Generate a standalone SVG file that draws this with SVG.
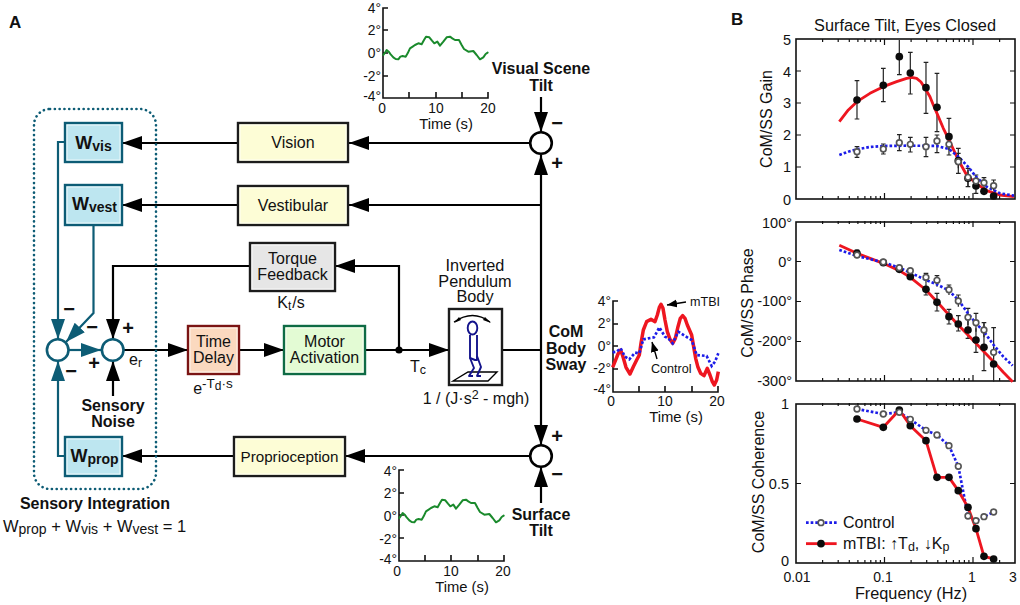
<svg xmlns="http://www.w3.org/2000/svg" xmlns:xlink="http://www.w3.org/1999/xlink" width="1020" height="605" viewBox="0 0 1020 605">
<style>
text{font-family:"Liberation Sans",Arial,sans-serif;fill:#111;font-size:16px}
.b{font-weight:bold}
.m{text-anchor:middle}
.e{text-anchor:end}
.t{font-size:13.800px}
.v{font-size:14.500px}
.ts{font-size:14.800px}
.s{font-size:20px;font-weight:bold;text-anchor:middle}
.w{fill:none;stroke:#000;stroke-width:2.2}
.a{marker-end:url(#ah)}
.tw{fill:none;stroke:#0d5c75;stroke-width:2.2}
.ta{marker-end:url(#th)}
.yb{fill:#fdfdd6;stroke:#1c1c1c;stroke-width:2.400}
.wb{fill:#bde6f0;stroke:#0d5c75;stroke-width:2.400}
.gb{fill:#e6e6e6;stroke:#1c1c1c;stroke-width:2.400}
.rim{fill:none;stroke:#fff;stroke-width:1;opacity:.75}
.cs{fill:#fff;stroke:#000;stroke-width:2.600}
.ct{fill:#fff;stroke:#0d5c75;stroke-width:2.600}
.ax{fill:none;stroke:#111;stroke-width:1.600}
.grn{fill:none;stroke:#1a8a2c;stroke-width:6;stroke-linejoin:round;stroke-linecap:round}
.red{fill:none;stroke:#ee1620;stroke-width:8.500;stroke-linejoin:round}
.blu{fill:none;stroke:#1c1ce8;stroke-width:8;stroke-dasharray:8 6}
.rt{stroke-width:10.500}
.err{fill:none;stroke:#222;stroke-width:3.600}
.of{fill:#fff;stroke:#555;stroke-width:5}
.bk{fill:#0c0c0c}
</style>
<defs>
<marker id="ah" markerUnits="userSpaceOnUse" markerWidth="22" markerHeight="16" refX="20" refY="7" orient="auto"><path d="M0 0L20 7L0 14Z" fill="#000"/></marker>
<marker id="th" markerUnits="userSpaceOnUse" markerWidth="22" markerHeight="16" refX="20" refY="7" orient="auto"><path d="M0 0L20 7L0 14Z" fill="#0d5c75"/></marker>
<marker id="sa" markerUnits="userSpaceOnUse" markerWidth="12" markerHeight="10" refX="10" refY="4" orient="auto"><path d="M0 0L10 4L0 8Z" fill="#000"/></marker>
<circle id="o" r="8.500" class="of"/>
<circle id="k" r="11.500" class="bk"/>
<path id="xt" fill="none" stroke="#111" stroke-width="1.200" d="M822.600 0v3M838.200 0v3M849.300 0v3M857.900 0v3M864.900 0v3M870.800 0v3M875.900 0v3M880.400 0v3M884.500 0v6M911.100 0v3M926.700 0v3M937.800 0v3M946.400 0v3M953.400 0v3M959.300 0v3M964.400 0v3M968.900 0v3M973 0v6M999.600 0v3M822.600 160v-3M838.200 160v-3M849.300 160v-3M857.900 160v-3M864.900 160v-3M870.800 160v-3M875.900 160v-3M880.400 160v-3M884.500 160v-6M911.100 160v-3M926.700 160v-3M937.800 160v-3M946.400 160v-3M953.400 160v-3M959.300 160v-3M964.400 160v-3M968.900 160v-3M973 160v-6M999.600 160v-3"/>
<path id="tilt" class="grn" d="M130 165L135 158L140 150L146 155L152 163L160 172L167 177L175 178L181 170L188 168L197 170L203 160L210 145L218 140L225 135L235 130L245 133L252 120L258 110L268 112L276 122L283 130L292 125L300 137L310 125L320 112L330 110L337 115L345 120L357 120L365 135L372 147L385 155L400 153L410 165L420 178L430 172L437 162L443 158"/>
</defs>

<g id="labels">
<text x="9" y="28" class="b" style="font-size:17px">A</text>
<text x="731" y="25" class="b" style="font-size:17px">B</text>
</g>

<g id="connectors">
<path class="w a" d="M530 143H349"/>
<path class="w a" d="M238 143H122"/>
<path class="w a" d="M541 205H349"/>
<path class="w a" d="M238 205H122"/>
<path class="w a" d="M399 350V266H335"/>
<path class="w a" d="M250 266H113V339"/>
<path class="w a" d="M124 350H188"/>
<path class="w a" d="M239 350H284"/>
<path class="w a" d="M365 350H449"/>
<path class="w" d="M502 350H541"/>
<path class="w a" d="M541 350V155"/>
<path class="w a" d="M541 350V445"/>
<path class="w a" d="M541 97V132"/>
<path class="w a" d="M541 503V467"/>
<path class="w a" d="M530 456H345"/>
<path class="w a" d="M234 456H122"/>
<path class="w a" d="M113 396V361"/>
<path class="tw ta" d="M65 142H58V339"/>
<path class="tw ta" d="M93.500 225V313L66 342"/>
<path class="tw ta" d="M65 456H58V361"/>
<path class="tw ta" d="M69 350H101"/>
<circle cx="399" cy="350" r="3.600" fill="#000"/>
</g>

<g id="sensory-integration">
<rect x="34" y="109" width="122" height="380" rx="16" fill="none" stroke="#0d5c75" stroke-width="2.600" stroke-linecap="round" stroke-dasharray="0.1 4.700"/>
<text x="95" y="509" class="b m">Sensory Integration</text>
<text x="3" y="532" style="font-size:16.500px">W<tspan dy="2" style="font-size:14px">prop</tspan><tspan dy="-2"> + W</tspan><tspan dy="2" style="font-size:14px">vis</tspan><tspan dy="-2"> + W</tspan><tspan dy="2" style="font-size:14px">vest</tspan><tspan dy="-2"> = 1</tspan></text>
</g>
<g id="wvis"><rect x="65" y="123" width="57" height="39" class="wb"/><rect x="67" y="125" width="53" height="35" class="rim"/><text x="93.500" y="149" class="b m" style="font-size:18px">W<tspan dy="2" style="font-size:14px">vis</tspan></text></g>
<g id="wvest"><rect x="65" y="185" width="57" height="40" class="wb"/><rect x="67" y="187" width="53" height="36" class="rim"/><text x="94.500" y="210" class="b m" style="font-size:18px">W<tspan dy="2" style="font-size:14px">vest</tspan></text></g>
<g id="wprop"><rect x="65" y="437" width="57" height="39" class="wb"/><rect x="67" y="439" width="53" height="35" class="rim"/><text x="94.500" y="462" class="b m" style="font-size:18px">W<tspan dy="2" style="font-size:14px">prop</tspan></text></g>

<g id="sum-left"><circle cx="57.700" cy="350" r="10.800" class="ct"/></g>
<g id="sum-right"><circle cx="112.700" cy="350" r="10.800" class="ct"/><text x="129" y="365">e<tspan dy="2" style="font-size:12px">r</tspan></text></g>
<g id="signs">
<text x="69" y="316" class="s">−</text>
<text x="92" y="334" class="s">−</text>
<text x="128" y="335" class="s">+</text>
<text x="94" y="370" class="s">+</text>
<text x="71" y="378" class="s">−</text>
<text x="557" y="130" class="s">−</text>
<text x="557" y="170" class="s">+</text>
<text x="557" y="443" class="s">+</text>
<text x="557" y="481" class="s">−</text>
</g>
<g id="sensory-noise"><text x="113" y="411" class="b m">Sensory</text><text x="113" y="427" class="b m">Noise</text></g>

<g id="vision"><rect x="238" y="123" width="110" height="39" class="yb"/><rect x="240" y="125" width="106" height="35" class="rim"/><text x="293" y="148" class="m">Vision</text></g>
<g id="vestibular"><rect x="238" y="186" width="110" height="39" class="yb"/><rect x="240" y="188" width="106" height="35" class="rim"/><text x="293" y="211" class="m">Vestibular</text></g>
<g id="proprioception"><rect x="234" y="437" width="111" height="39" class="yb"/><rect x="236" y="439" width="107" height="35" class="rim"/><text x="289.500" y="462" class="m" style="font-size:15.200px">Proprioception</text></g>
<g id="torque"><rect x="250" y="243" width="85" height="48" class="gb"/><rect x="252" y="245" width="81" height="44" class="rim"/><text x="292.500" y="264" class="m">Torque</text><text x="292.500" y="280" class="m">Feedback</text><text x="291" y="308" class="m">K<tspan dy="2" style="font-size:12px">t</tspan><tspan dy="-2" dx="1">/s</tspan></text></g>
<g id="time-delay"><rect x="188" y="326" width="51" height="48" fill="#fbd9bf" stroke="#7a1414" stroke-width="2.400"/><rect x="190" y="328" width="47" height="44" class="rim"/><text x="213.500" y="347" class="m">Time</text><text x="213.500" y="363" class="m">Delay</text><text x="213" y="394" class="m">e<tspan dy="-6" style="font-size:13.500px">-T</tspan><tspan dy="2" style="font-size:12px">d</tspan><tspan dy="-2" style="font-size:13.500px">·s</tspan></text></g>
<g id="motor"><rect x="284" y="326" width="81" height="48" fill="#e3fbd4" stroke="#0e6b45" stroke-width="2.400"/><rect x="286" y="328" width="77" height="44" class="rim"/><text x="324.500" y="347" class="m">Motor</text><text x="324.500" y="363" class="m">Activation</text></g>

<g id="pendulum">
<text x="475" y="271" class="m" style="font-size:16.300px">Inverted</text><text x="475" y="287" class="m" style="font-size:16.300px">Pendulum</text><text x="475" y="302" class="m" style="font-size:16.300px">Body</text>
<rect x="449" y="309" width="53" height="76" fill="#fff" stroke="#1c1c1c" stroke-width="2.400"/>
<path d="M454 322Q473 309 490 322" fill="none" stroke="#000" stroke-width="1.300"/>
<path d="M454 323L459 317L461 320ZM491 323L485 317L483 320Z" fill="#000"/>
<path d="M453 381L468 372H497L488 381Z" fill="#fff" stroke="#000" stroke-width="1.400"/>
<g fill="none" stroke="#14148c" stroke-width="1.900" stroke-linejoin="round">
<ellipse cx="472.500" cy="328" rx="4.800" ry="6.500"/>
<path d="M470 335V358L475 360H477L477 335"/>
<path d="M470 358L474 368L469 376H473"/>
<path d="M477 356L481 367L477 376H481"/>
</g>
<text x="476" y="404" class="m">1 / (J·s<tspan dy="-5" style="font-size:12.500px">2</tspan><tspan dy="5"> - mgh)</tspan></text>
</g>
<g id="tc"><text x="410" y="372">T<tspan dy="2" style="font-size:12.500px">c</tspan></text></g>
<g id="com-label"><text x="566" y="337" class="b m">CoM</text><text x="566" y="354" class="b m">Body</text><text x="566" y="370" class="b m">Sway</text></g>

<g id="sum-top"><circle cx="541" cy="143" r="10.800" class="cs"/><text x="541" y="74" class="b m">Visual Scene</text><text x="541" y="91" class="b m">Tilt</text></g>
<g id="sum-bottom"><circle cx="541" cy="456" r="10.800" class="cs"/><text x="541" y="520" class="b m">Surface</text><text x="541" y="536" class="b m">Tilt</text></g>

<g id="inset-visual">
<path class="ax" d="M388 8H383V98H488V92M409 98V92M436 98V92M462 98V92M383 30H388M383 53H388M383 76H388"/>
<use xlink:href="#tilt" href="#tilt" transform="translate(340 0) scale(.3333)"/>
<text x="381" y="13" class="e t">4°</text><text x="381" y="35" class="e t">2°</text><text x="381" y="58" class="e t">0°</text><text x="381" y="81" class="e t">-2°</text><text x="381" y="101" class="e t">-4°</text>
<text x="382" y="113" class="m t">0</text><text x="436" y="113" class="m t">10</text><text x="488" y="113" class="m t">20</text><text x="446" y="129" class="m ts">Time (s)</text>
</g>
<g id="inset-surface">
<path class="ax" d="M404 470H399V561H504V555M425 561V555M451 561V555M478 561V555M399 493H404M399 515H404M399 538H404"/>
<use xlink:href="#tilt" href="#tilt" transform="translate(356 463) scale(.3333)"/>
<text x="397" y="476" class="e t">4°</text><text x="397" y="498" class="e t">2°</text><text x="397" y="521" class="e t">0°</text><text x="397" y="544" class="e t">-2°</text><text x="397" y="564" class="e t">-4°</text>
<text x="397" y="576" class="m t">0</text><text x="451" y="576" class="m t">10</text><text x="503" y="576" class="m t">20</text><text x="462" y="592" class="m ts">Time (s)</text>
</g>
<g id="inset-com">
<path class="ax" d="M618 301H613V392H718V386M639 392V386M665 392V386M692 392V386M613 324H618M613 346H618M613 369H618"/>
<g transform="translate(550 280) scale(.3333)">
<path class="red rt" d="M188 262L195 245L204 222L212 210L219 230L228 262L240 282L250 260L260 240L268 225L273 190L280 150L290 125L303 118L315 125L322 105L328 82L333 73L339 85L345 120L352 155L360 178L368 190L376 175L384 140L391 115L398 107L405 115L412 135L425 165L431 200L437 235L444 262L452 280L462 287L472 265L480 285L487 305L493 315L500 300L505 275"/>
<path class="blu" d="M188 217L200 215L212 205L225 230L238 238L255 218L268 220L280 178L295 175L312 172L328 142L345 170L355 175L368 190L385 155L405 168L425 180L440 225L470 228L485 258L495 245L505 220"/>
</g>
<text x="611" y="306" class="e t">4°</text><text x="611" y="328" class="e t">2°</text><text x="611" y="351" class="e t">0°</text><text x="611" y="373" class="e t">-2°</text><text x="611" y="394" class="e t">-4°</text>
<text x="611" y="406" class="m t">0</text><text x="665" y="406" class="m t">10</text><text x="717" y="406" class="m t">20</text><text x="676" y="422" class="m ts">Time (s)</text>
<text x="690" y="306" style="font-size:12.600px">mTBI</text><text x="651" y="373" style="font-size:12.600px">Control</text>
<path d="M686 302L667 305" fill="none" stroke="#000" stroke-width="1.400" marker-end="url(#sa)"/>
<path d="M657 359L652 342" fill="none" stroke="#000" stroke-width="1.400" marker-end="url(#sa)"/>
</g>

<g id="plot-gain">
<text x="905" y="31" class="m" style="font-size:16.300px">Surface Tilt, Eyes Closed</text>
<rect x="796" y="39" width="219" height="160" class="ax"/>
<use xlink:href="#xt" href="#xt" y="39"/>
<path fill="none" stroke="#111" stroke-width="1.200" d="M796 71h5M796 103h5M796 135h5M796 167h5M1015 71h-5M1015 103h-5M1015 135h-5M1015 167h-5"/>
<text x="791" y="45" class="e v">5</text><text x="791" y="77" class="e v">4</text><text x="791" y="108" class="e v">3</text><text x="791" y="140" class="e v">2</text><text x="791" y="172" class="e v">1</text><text x="791" y="205" class="e v">0</text>
<text transform="translate(772 119) rotate(-90)" class="m">CoM/SS Gain</text>
<g transform="translate(720 0) scale(.3333)">
<path class="err" d="M411 242V357M404 242h14M404 357h14M490 205V305M483 205h14M483 305h14M538 120V224M531 224h14M571 157V282M564 157h14M564 282h14M618 187V340M611 187h14M611 340h14M651 220V395M644 220h14M644 395h14M687 355V465M680 355h14M680 465h14M715 445V520M708 445h14M708 520h14M744 510V560M737 560h14M768 530V580M761 580h14"/>
<path class="err" d="M411 440V472M404 440h14M404 472h14M490 432V462M483 432h14M483 462h14M538 404V452M531 404h14M531 452h14M571 412V456M564 412h14M564 456h14M618 412V470M611 412h14M611 470h14M651 405V458M644 405h14M644 458h14M687 420V450M680 420h14M715 460V505M708 460h14M744 505V558M737 505h14M768 525V565M761 525h14M792 533V565M785 533h14M821 540V572M814 540h14"/>
<path class="red" d="M358 365L385 330L411 305L450 280L490 260L530 245L560 235L575 232L590 235L603 246L615 265L630 290L640 315L651 340L670 385L687 420L715 480L740 525L768 550L800 572L840 585L882 590"/>
<path class="blu" d="M358 465L385 455L411 448L450 441L490 438L571 437L650 438L687 447L715 470L744 500L768 530L800 560L840 580L882 587"/>
<use xlink:href="#k" href="#k" x="411" y="300"/><use xlink:href="#k" href="#k" x="490" y="256"/><use xlink:href="#k" href="#k" x="538" y="170"/><use xlink:href="#k" href="#k" x="571" y="219"/><use xlink:href="#k" href="#k" x="618" y="263"/><use xlink:href="#k" href="#k" x="651" y="322"/><use xlink:href="#k" href="#k" x="687" y="410"/><use xlink:href="#k" href="#k" x="715" y="482"/><use xlink:href="#k" href="#k" x="744" y="535"/><use xlink:href="#k" href="#k" x="768" y="558"/><use xlink:href="#k" href="#k" x="792" y="574"/><use xlink:href="#k" href="#k" x="821" y="588"/>
<use xlink:href="#o" href="#o" x="411" y="455"/><use xlink:href="#o" href="#o" x="490" y="447"/><use xlink:href="#o" href="#o" x="538" y="428"/><use xlink:href="#o" href="#o" x="571" y="433"/><use xlink:href="#o" href="#o" x="618" y="440"/><use xlink:href="#o" href="#o" x="651" y="423"/><use xlink:href="#o" href="#o" x="687" y="433"/><use xlink:href="#o" href="#o" x="715" y="485"/><use xlink:href="#o" href="#o" x="744" y="532"/><use xlink:href="#o" href="#o" x="768" y="543"/><use xlink:href="#o" href="#o" x="792" y="548"/><use xlink:href="#o" href="#o" x="821" y="557"/>
</g>
</g>

<g id="plot-phase">
<rect x="796" y="222" width="219" height="159" class="ax"/>
<use xlink:href="#xt" href="#xt" y="221"/>
<path fill="none" stroke="#111" stroke-width="1.200" d="M796 261.500h5M796 301.500h5M796 341.500h5M1015 261.500h-5M1015 301.500h-5M1015 341.500h-5"/>
<text x="792" y="228" class="e v">100°</text><text x="792" y="267" class="e v">0°</text><text x="792" y="306" class="e v">-100°</text><text x="792" y="346" class="e v">-200°</text><text x="792" y="386" class="e v">-300°</text>
<text transform="translate(753 303) rotate(-90)" class="m">CoM/SS Phase</text>
<g transform="translate(720 200) scale(.3333)">
<path class="err" d="M411 150V175M404 150h14M618 250V285M611 285h14M651 280V333M644 280h14M644 333h14M687 328V372M680 328h14M680 372h14M715 347V393M708 347h14M708 393h14M744 355V415M737 415h14M768 385V457M761 457h14M792 370V512M785 512h14M821 440V545"/>
<path class="err" d="M618 220V250M611 220h14M651 227V260M644 227h14M687 255V285M680 255h14M715 285V320M708 285h14M744 325V375M737 325h14M768 340V395M761 340h14M792 368V412M785 368h14M821 383V470M814 383h14"/>
<path class="red" d="M358 136L411 160L490 190L538 212L571 232L618 270L651 305L687 345L715 375L744 405L768 430L792 455L821 485L850 517L878 545"/>
<path class="blu" d="M358 150L411 168L490 187L538 203L571 218L618 240L651 253L687 272L715 300L744 340L768 370L792 395L821 435L850 470L878 497"/>
<use xlink:href="#k" href="#k" x="411" y="160"/><use xlink:href="#k" href="#k" x="490" y="188"/><use xlink:href="#k" href="#k" x="538" y="208"/><use xlink:href="#k" href="#k" x="571" y="230"/><use xlink:href="#k" href="#k" x="618" y="268"/><use xlink:href="#k" href="#k" x="651" y="307"/><use xlink:href="#k" href="#k" x="687" y="350"/><use xlink:href="#k" href="#k" x="715" y="372"/><use xlink:href="#k" href="#k" x="744" y="390"/><use xlink:href="#k" href="#k" x="768" y="420"/><use xlink:href="#k" href="#k" x="792" y="442"/><use xlink:href="#k" href="#k" x="821" y="492"/>
<use xlink:href="#o" href="#o" x="411" y="165"/><use xlink:href="#o" href="#o" x="490" y="186"/><use xlink:href="#o" href="#o" x="538" y="203"/><use xlink:href="#o" href="#o" x="571" y="212"/><use xlink:href="#o" href="#o" x="618" y="232"/><use xlink:href="#o" href="#o" x="651" y="241"/><use xlink:href="#o" href="#o" x="687" y="269"/><use xlink:href="#o" href="#o" x="715" y="303"/><use xlink:href="#o" href="#o" x="744" y="352"/><use xlink:href="#o" href="#o" x="768" y="368"/><use xlink:href="#o" href="#o" x="792" y="390"/><use xlink:href="#o" href="#o" x="821" y="457"/>
</g>
</g>

<g id="plot-coherence">
<rect x="796" y="404" width="219" height="159" class="ax"/>
<use xlink:href="#xt" href="#xt" y="403"/>
<path fill="none" stroke="#111" stroke-width="1.200" d="M796 483.500h5M1015 483.500h-5"/>
<text x="789" y="409" class="e v">1</text><text x="789" y="489" class="e v">0.5</text><text x="789" y="566" class="e v">0</text>
<text x="797" y="582" class="m" style="font-size:14px">0.01</text><text x="883" y="582" class="m" style="font-size:14px">0.1</text><text x="972" y="582" class="m" style="font-size:14px">1</text><text x="1013" y="582" class="m" style="font-size:14px">3</text>
<text x="911" y="599" class="m" style="font-size:16.300px">Frequency (Hz)</text>
<text transform="translate(764 482) rotate(-90)" class="m">CoM/SS Coherence</text>
<g transform="translate(720 390) scale(.3333)">
<path class="blu" d="M411 57L490 72L538 67L571 88L618 121L651 135L687 167L715 229L744 378L768 392L792 380L821 366"/>
<path class="red" d="M411 87L490 112L538 60L571 107L618 152L651 262L687 262L715 302L744 352L768 416L792 499L821 507"/>
<use xlink:href="#k" href="#k" x="411" y="87"/><use xlink:href="#k" href="#k" x="490" y="112"/><use xlink:href="#k" href="#k" x="538" y="60"/><use xlink:href="#k" href="#k" x="571" y="107"/><use xlink:href="#k" href="#k" x="618" y="152"/><use xlink:href="#k" href="#k" x="651" y="262"/><use xlink:href="#k" href="#k" x="687" y="262"/><use xlink:href="#k" href="#k" x="715" y="302"/><use xlink:href="#k" href="#k" x="744" y="352"/><use xlink:href="#k" href="#k" x="768" y="416"/><use xlink:href="#k" href="#k" x="792" y="499"/><use xlink:href="#k" href="#k" x="821" y="507"/>
<use xlink:href="#o" href="#o" x="411" y="57"/><use xlink:href="#o" href="#o" x="490" y="72"/><use xlink:href="#o" href="#o" x="538" y="67"/><use xlink:href="#o" href="#o" x="571" y="88"/><use xlink:href="#o" href="#o" x="618" y="121"/><use xlink:href="#o" href="#o" x="651" y="135"/><use xlink:href="#o" href="#o" x="687" y="167"/><use xlink:href="#o" href="#o" x="715" y="229"/><use xlink:href="#o" href="#o" x="744" y="378"/><use xlink:href="#o" href="#o" x="768" y="392"/><use xlink:href="#o" href="#o" x="792" y="380"/><use xlink:href="#o" href="#o" x="821" y="366"/>
<path class="blu" d="M258 398H350"/><use xlink:href="#o" href="#o" x="303" y="398"/>
<path class="red" d="M258 461H350"/><use xlink:href="#k" href="#k" x="303" y="461"/>
</g>
<text x="843" y="528">Control</text>
<text x="843" y="549">mTBI: ↑T<tspan dy="2" style="font-size:12.500px">d</tspan><tspan dy="-2">, ↓K</tspan><tspan dy="2" style="font-size:12.500px">p</tspan></text>
</g>
</svg>
